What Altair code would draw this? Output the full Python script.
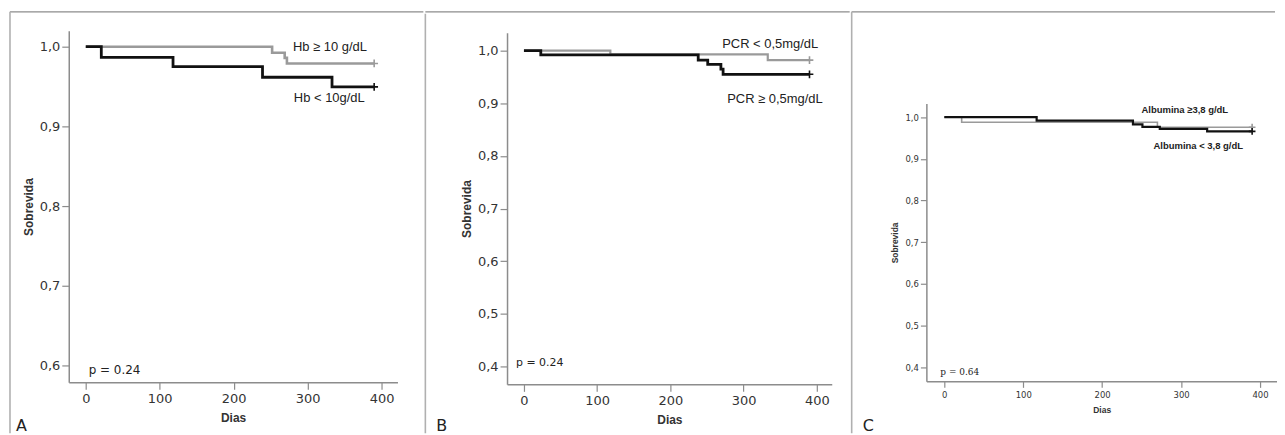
import altair as alt
import pandas as pd

# ---------------- data ----------------
# Panel A: haemoglobin
a_hi_t = [0, 252, 269, 272, 390]
a_hi_s = [1.0, 0.9925, 0.986, 0.979, 0.979]
a_lo_t = [0, 21, 118, 239, 333, 390]
a_lo_s = [1.0, 0.9867, 0.975, 0.9617, 0.9496, 0.9496]

# Panel B: PCR
b_lo_t = [0, 118, 333, 390]
b_lo_s = [1.0, 0.993, 0.982, 0.982]
b_hi_t = [0, 23, 238, 251, 269, 272, 390]
b_hi_s = [1.0, 0.992, 0.982, 0.974, 0.965, 0.955, 0.955]

# Panel C: albumin
c_hi_t = [0, 22, 270, 390]
c_hi_s = [1.0, 0.988, 0.976, 0.976]
c_lo_t = [0, 117, 239, 251, 273, 333, 390]
c_lo_s = [1.0, 0.992, 0.983, 0.977, 0.972, 0.966, 0.966]

x_ticks = [0, 100, 200, 300, 400]
a_y_ticks = [0.6, 0.7, 0.8, 0.9, 1.0]
bc_y_ticks = [0.4, 0.5, 0.6, 0.7, 0.8, 0.9, 1.0]

GRAY = "#9a9a9a"
BLACK = "#111111"
FRAME = "#8c8c8c"
TXT = "#333333"
PLUS = "M-1,0H1M0,-1V1"


def curve_df(t, s):
    return pd.DataFrame({"t": t, "s": s})


def panel(curves, xdom, ydom, yticks, w, h, yrange, big, texts, frame):
    lab_size = 13 if big else 8.5
    ttl_size = 12 if big else 8.5
    xs = alt.Scale(domain=xdom, nice=False, zero=False)
    ys = alt.Scale(domain=ydom, nice=False, zero=False, range=yrange)
    xax = alt.Axis(values=x_ticks, title="Dias", grid=False, tickSize=7 if big else 6,
                   labelPadding=3, titlePadding=7 if big else 7,
                   labelFont="DejaVu Sans", labelFontSize=lab_size, labelColor=TXT,
                   titleFont="Liberation Sans", titleFontSize=ttl_size, titleFontWeight="bold",
                   titleColor=TXT, domainColor=FRAME, domainWidth=1.5, tickColor=FRAME,
                   tickWidth=1.2)
    yax = alt.Axis(values=yticks, title="Sobrevida", grid=False, tickSize=7 if big else 6,
                   labelPadding=2, titlePadding=4 if big else 5,
                   labelExpr="replace(format(datum.value, '.1f'), '.', ',')",
                   labelFont="DejaVu Sans", labelFontSize=lab_size, labelColor=TXT,
                   titleFont="Liberation Sans", titleFontSize=ttl_size, titleFontWeight="bold",
                   titleColor=TXT, domainColor=FRAME, domainWidth=1.5, tickColor=FRAME,
                   tickWidth=1.2)
    layers = []
    first = True
    for (t, s, color, sw) in curves:
        df = curve_df(t, s)
        if first:
            xe = alt.X("t:Q", scale=xs, axis=xax)
            ye = alt.Y("s:Q", scale=ys, axis=yax)
            first = False
        else:
            xe = alt.X("t:Q", scale=xs)
            ye = alt.Y("s:Q", scale=ys)
        line = alt.Chart(df).mark_line(interpolate="step-after", color=color,
                                       strokeWidth=sw).encode(x=xe, y=ye)
        end = alt.Chart(df.tail(1)).mark_point(shape=PLUS, size=60 if big else 45,
                                               filled=False, color=color,
                                               strokeWidth=1.6, opacity=1).encode(
            x=alt.X("t:Q", scale=xs), y=alt.Y("s:Q", scale=ys))
        layers += [line, end]
    for (txt, x, y, size, font, weight) in texts:
        layers.append(alt.Chart(pd.DataFrame({"k": [0]})).mark_text(
            text=txt, align="left", baseline="middle", fontSize=size, font=font,
            fontWeight=weight, color="#222222").encode(x=alt.value(x), y=alt.value(y)))
    # frame lines (panel border)
    lx, ty, vy, rx, by = frame
    layers.append(alt.Chart(pd.DataFrame({"k": [0]})).mark_rule(
        color=FRAME, strokeWidth=1.3).encode(
        x=alt.value(lx), x2=alt.value(rx), y=alt.value(ty)))
    layers.append(alt.Chart(pd.DataFrame({"k": [0]})).mark_rule(
        color="#b0b0b0", strokeWidth=1.6).encode(
        x=alt.value(lx), y=alt.value(vy), y2=alt.value(by)))
    return alt.layer(*layers).properties(width=w, height=h)


# all three panels share the plot origin row (page y = 30)
pA = panel(
    [(a_hi_t, a_hi_s, GRAY, 2.6), (a_lo_t, a_lo_s, BLACK, 2.8)],
    [-23, 421.5], [0.579, 1.02], a_y_ticks, 330, 353, [353, 0], True,
    [("Hb ≥ 10 g/dL", 225, 16, 13, "Liberation Sans", "normal"),
     ("Hb < 10g/dL", 226, 68, 13, "Liberation Sans", "normal"),
     ("p = 0.24", 20, 341, 12, "DejaVu Sans", "normal"),
     ("A", -53, 397, 16, "DejaVu Sans", "normal")],
    (-59, -19, -19, 356, 404),
)

pB = panel(
    [(b_lo_t, b_lo_s, GRAY, 2.2), (b_hi_t, b_hi_s, BLACK, 2.8)],
    [-23.1, 420.4], [0.366, 1.034], bc_y_ticks, 326, 355, [355, 2], True,
    [("PCR < 0,5mg/dL", 216, 13, 13, "Liberation Sans", "normal"),
     ("PCR ≥ 0,5mg/dL", 221, 69, 13, "Liberation Sans", "normal"),
     ("p = 0.24", 9, 334, 11, "DejaVu Sans", "normal"),
     ("B", -71, 397, 16, "DejaVu Sans", "normal")],
    (-82, -19, -17, 344, 404),
)

pC = panel(
    [(c_hi_t, c_hi_s, GRAY, 1.6), (c_lo_t, c_lo_s, BLACK, 2.2)],
    [-22.7, 421.5], [0.366, 1.033], bc_y_ticks, 352, 352, [352, 73], False,
    [("Albumina  ≥3,8 g/dL", 216, 80, 9.5, "Liberation Sans", "bold"),
     ("Albumina < 3,8 g/dL", 228, 116, 9.5, "Liberation Sans", "bold"),
     ("p = 0.64", 14, 343, 9, "DejaVu Serif", "normal"),
     ("C", -64, 397, 16, "DejaVu Sans", "normal")],
    (-75, -19, -19, 350, 404),
)

chart = alt.hconcat(pA, pB, pC, spacing=0).properties(
    padding={"left": 1, "top": 2, "right": 0, "bottom": 0}
).configure_view(stroke=None).configure_concat(spacing=0)

chart.save("out.html", embed_options={"renderer": "svg", "actions": False})
